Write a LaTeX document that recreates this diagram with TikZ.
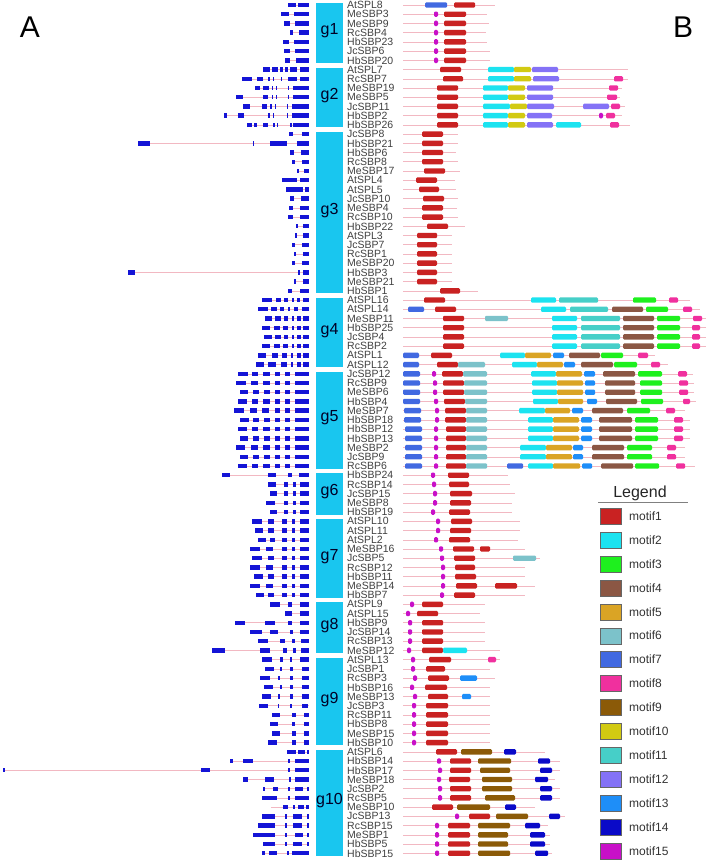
\documentclass[tikz,border=0pt]{standalone}
\usepackage{fontspec}
\setmainfont{Liberation Sans}
\definecolor{grp}{HTML}{19C6EF}
\definecolor{exonc}{HTML}{1414D6}
\definecolor{linec}{HTML}{F2B8C2}
\definecolor{mA}{HTML}{C92222}% motif1
\definecolor{mB}{HTML}{1CE3F0}% motif2
\definecolor{mC}{HTML}{1EF01E}% motif3
\definecolor{mD}{HTML}{8B5744}% motif4
\definecolor{mE}{HTML}{DAA425}% motif5
\definecolor{mF}{HTML}{7CC2CA}% motif6
\definecolor{mG}{HTML}{4169E1}% motif7
\definecolor{mH}{HTML}{F0309E}% motif8
\definecolor{mI}{HTML}{8B5A08}% motif9
\definecolor{mJ}{HTML}{D2CA12}% motif10
\definecolor{mK}{HTML}{46CFC8}% motif11
\definecolor{mL}{HTML}{8472F6}% motif12
\definecolor{mM}{HTML}{1E8EF8}% motif13
\definecolor{mN}{HTML}{0A0AC8}% motif14
\definecolor{mO}{HTML}{C810C8}% motif15
\tikzset{
  gname/.style={anchor=west,inner sep=0pt,text=black!75,font=\fontsize{10.5}{10}\selectfont},
  glabel/.style={font=\fontsize{16}{16}\selectfont,text=black!85!blue},
  grpbar/.style={fill=grp},
  intron/.style={draw=linec,line width=0.5pt},
  exon/.style={fill=exonc},
  motif/.style={rounded corners=1.2pt},
  keybox/.style={draw=black!60,line width=0.4pt,minimum width=21pt,minimum height=16pt,inner sep=0pt},
  keytext/.style={anchor=west,inner sep=0pt,text=black!80,font=\fontsize{12}{12}\selectfont},
  panel/.style={font=\fontsize{30}{30}\selectfont}
}
% gene structure: row, start of the line, exons
\newcommand{\gene}[3]{%
  \pgfmathsetmacro\yy{5+#1*9.22}
  \draw[intron] (#2,\yy) -- (309,\yy);
  \foreach \a/\b in {#3} \fill[exon] (\a,\yy-2.2) rectangle (\b,\yy+2.2);
}
% protein motifs: row, end of the line, motifs
\newcommand{\prot}[3]{%
  \pgfmathsetmacro\yy{5+#1*9.22}
  \draw[intron] (403,\yy) -- (#2,\yy);
  \foreach \a/\b/\c in {#3} \fill[motif,fill=\c] (\a,\yy-2.7) rectangle (\b,\yy+2.7);
}
\begin{document}
\begin{tikzpicture}[x=1pt,y=-1pt]
\useasboundingbox (0,0) rectangle (709,862);
\node[panel] (pA) at (30,27) {A};
\node[panel] (pB) at (683,27) {B};
% groups
\foreach \g/\a/\b in {1/0/6,2/7/13,3/14/31,4/32/39,5/40/50,6/51/55,7/56/64,8/65/70,9/71/80,10/81/92}{
  \fill[grpbar] (316,{5+\a*9.22-2}) rectangle (343,{5+\b*9.22+2.5});
  \node[glabel] (g\g) at (329.5,{5+(\a+\b)*4.61-2}) {g\g};
}
% names
\foreach \n [count=\i from 0] in {AtSPL8,MeSBP3,MeSBP9,RcSBP4,HbSBP23,JcSBP6,HbSBP20,
  AtSPL7,RcSBP7,MeSBP19,MeSBP5,JcSBP11,HbSBP2,HbSBP26,
  JcSBP8,HbSBP21,HbSBP6,RcSBP8,MeSBP17,AtSPL4,AtSPL5,JcSBP10,MeSBP4,RcSBP10,HbSBP22,AtSPL3,JcSBP7,RcSBP1,MeSBP20,HbSBP3,MeSBP21,HbSBP1,
  AtSPL16,AtSPL14,MeSBP11,HbSBP25,JcSBP4,RcSBP2,AtSPL1,AtSPL12,
  JcSBP12,RcSBP9,MeSBP6,HbSBP4,MeSBP7,HbSBP18,HbSBP12,HbSBP13,MeSBP2,JcSBP9,RcSBP6,
  HbSBP24,RcSBP14,JcSBP15,MeSBP8,HbSBP19,
  AtSPL10,AtSPL11,AtSPL2,MeSBP16,JcSBP5,RcSBP12,HbSBP11,MeSBP14,HbSBP7,
  AtSPL9,AtSPL15,HbSBP9,JcSBP14,RcSBP13,MeSBP12,
  AtSPL13,JcSBP1,RcSBP3,HbSBP16,MeSBP13,JcSBP3,RcSBP11,HbSBP8,MeSBP15,HbSBP10,
  AtSPL6,HbSBP14,HbSBP17,MeSBP18,JcSBP2,RcSBP5,MeSBP10,JcSBP13,RcSBP15,MeSBP1,HbSBP5,HbSBP15}
  \node[gname] (r\i) at (347,{5+\i*9.22}) {\n};
% A: gene structures
\gene{0}{288}{288/296,298/309}
\gene{1}{281}{281/289,294/309}
\gene{2}{284}{284/290,295/309}
\gene{3}{290}{290/293,299/309}
\gene{4}{283}{283/289,294/309}
\gene{5}{284}{284/290,295/309}
\gene{6}{285}{285/290,296/309}
\gene{7}{263}{263/270,272/278,280/283,285/288,290/297,300/309}
\gene{8}{242}{242/252,257/263,268/270,273/274,281/282,288/297,300/309}
\gene{9}{255}{255/260,263/269,272/273,276/277,288/289,293/309}
\gene{10}{236}{236/243,263/268,272/273,276/277,288/289,293/309}
\gene{11}{243}{243/250,262/267,270/272,275/276,287/288,292/309}
\gene{12}{224}{224/227,238/244,268/270,273/274,287/288,292/309}
\gene{13}{247}{247/252,254/257,263/268,273/275,277/278,290/292,293/309}
\gene{14}{289}{289/293,302/309}
\gene{15}{138}{138/150,253/254,270/287,297/309}
\gene{16}{290}{290/294,301/309}
\gene{17}{292}{292/295,302/309}
\gene{18}{297}{297/299,304/309}
\gene{19}{282}{282/297,300/309}
\gene{20}{286}{286/303,305/309}
\gene{21}{290}{290/294,301/309}
\gene{22}{289}{289/293,300/309}
\gene{23}{288}{288/293,300/309}
\gene{24}{296}{296/298,303/309}
\gene{25}{295}{295/297,303/309}
\gene{26}{292}{292/295,302/309}
\gene{27}{294}{294/296,303/309}
\gene{28}{292}{292/295,302/309}
\gene{29}{128}{128/135,298/300,303/309}
\gene{30}{294}{294/296,303/309}
\gene{31}{288}{288/292,300/309}
\gene{32}{262}{262/272,276/281,284/288,292/294,297/300,303/309}
\gene{33}{258}{258/268,271/277,280/284,288/290,294/298,302/309}
\gene{34}{265}{265/272,275/281,284/288,292/294,297/301,303/309}
\gene{35}{262}{262/270,274/280,283/288,292/294,297/301,303/309}
\gene{36}{264}{264/272,275/281,284/288,292/294,297/301,303/309}
\gene{37}{262}{262/270,274/280,283/288,292/294,297/301,303/309}
\gene{38}{258}{258/266,272/278,282/287,291/293,297/301,303/309}
\gene{39}{256}{256/264,268/276,281/287,291/293,297/301,303/309}
\gene{40}{238}{238/248,252/258,263/270,275/280,285/290,295/309}
\gene{41}{236}{236/246,251/258,263/270,275/280,285/290,295/309}
\gene{42}{240}{240/248,253/259,264/270,275/280,285/290,295/309}
\gene{43}{238}{238/247,252/258,263/270,275/280,285/290,295/309}
\gene{44}{234}{234/244,250/257,262/269,275/280,285/290,295/309}
\gene{45}{240}{240/249,253/259,264/270,275/280,285/290,295/309}
\gene{46}{238}{238/247,252/258,263/270,275/280,285/290,295/309}
\gene{47}{240}{240/248,253/259,264/270,275/280,285/290,295/309}
\gene{48}{236}{236/245,251/258,263/270,275/280,285/290,295/309}
\gene{49}{240}{240/248,253/259,264/270,275/280,285/290,295/309}
\gene{50}{238}{238/247,252/258,263/270,275/280,285/290,295/309}
\gene{51}{222}{222/230,268/276,288/292,299/309}
\gene{52}{268}{268/276,284/288,293/296,300/309}
\gene{53}{270}{270/277,284/288,293/296,300/309}
\gene{54}{266}{266/275,284/288,293/296,300/309}
\gene{55}{270}{270/277,284/288,293/296,300/309}
\gene{56}{252}{252/262,268/274,282/287,292/295,300/309}
\gene{57}{255}{255/263,268/274,282/287,292/295,300/309}
\gene{58}{258}{258/266,270/275,282/287,292/295,300/309}
\gene{59}{250}{250/260,266/273,282/287,292/295,300/309}
\gene{60}{252}{252/262,268/274,282/287,292/295,300/309}
\gene{61}{250}{250/260,266/273,282/287,292/295,300/309}
\gene{62}{254}{254/263,268/274,282/287,292/295,300/309}
\gene{63}{250}{250/260,266/273,282/287,292/295,300/309}
\gene{64}{256}{256/264,268/274,282/287,292/295,300/309}
\gene{65}{270}{270/280,288/292,300/309}
\gene{66}{285}{285/292,300/309}
\gene{67}{235}{235/245,265/275,288/292,300/309}
\gene{68}{250}{250/262,270/278,290/293,300/309}
\gene{69}{258}{258/268,280/285,292/295,301/309}
\gene{70}{212}{212/225,260/270,283/287,293/296,301/309}
\gene{71}{262}{262/272,280/283,290/292,300/309}
\gene{72}{265}{265/274,280/282,290/293,302/309}
\gene{73}{260}{260/270,278/280,290/293,302/309}
\gene{74}{264}{264/273,280/282,290/293,302/309}
\gene{75}{262}{262/271,278/280,290/293,302/309}
\gene{76}{259}{259/268,278/279,290/292,302/308}
\gene{77}{272}{272/280,292/296,304/309}
\gene{78}{270}{270/278,292/295,304/309}
\gene{79}{272}{272/280,292/296,304/309}
\gene{80}{268}{268/277,292/296,304/309}
\gene{81}{287}{287/296,298/305,307/309}
\gene{82}{230}{230/233,243/253,288/290,295/309}
\gene{83}{3}{3/4.5,201/210,288/290,295/309}
\gene{84}{243}{243/248,265/274,289/291,295/309}
\gene{85}{263}{263/265,273/278,288/290,295/303,307/309}
\gene{86}{262}{262/277,288/290,295/309}
\gene{87}{271}{283/288,293/295,298/304,306/309}
\gene{88}{262}{262/275,285/287,293/302,307/309}
\gene{89}{258}{258/275,285/287,293/302,307/309}
\gene{90}{253}{253/275,285/287,295/303,307/309}
\gene{91}{263}{263/275,285/287,293/302,307/309}
\gene{92}{262}{262/265,269/277,287/289,292/309}
% B: motifs
\prot{0}{495}{425/447/mG,454/475/mA}
\prot{1}{487}{434/438/mO,444/466/mA}
\prot{2}{489}{434/438/mO,444/466/mA}
\prot{3}{486}{434/438/mO,444/466/mA}
\prot{4}{487}{434/438/mO,444/466/mA}
\prot{5}{490}{434/438/mO,444/466/mA}
\prot{6}{490}{434/438/mO,444/466/mA}
\prot{7}{628}{440/461/mA,488/514/mB,514/531/mJ,532/558/mL}
\prot{8}{628}{443/463/mA,488/514/mB,514/531/mJ,533/559/mL,614/623/mH}
\prot{9}{622}{437/458/mA,483/508/mB,508/525/mJ,527/553/mL,609/618/mH}
\prot{10}{620}{437/458/mA,483/508/mB,508/525/mJ,527/553/mL,607/617/mH}
\prot{11}{625}{437/458/mA,483/510/mB,510/527/mJ,527/554/mL,583/609/mL,611/620/mH}
\prot{12}{622}{437/458/mA,483/508/mB,508/525/mJ,527/552/mL,599/603/mO,606/615/mH}
\prot{13}{630}{437/458/mA,483/508/mB,508/525/mJ,527/553/mL,556/581/mB,610/619/mH}
\prot{14}{458}{422/443/mA}
\prot{15}{458}{422/443/mA}
\prot{16}{456}{422/443/mA}
\prot{17}{458}{422/443/mA}
\prot{18}{460}{424/445/mA}
\prot{19}{455}{416/437/mA}
\prot{20}{456}{419/439/mA}
\prot{21}{458}{423/444/mA}
\prot{22}{457}{422/443/mA}
\prot{23}{458}{422/443/mA}
\prot{24}{465}{427/448/mA}
\prot{25}{452}{417/437/mA}
\prot{26}{452}{417/437/mA}
\prot{27}{452}{417/437/mA}
\prot{28}{452}{417/437/mA}
\prot{29}{452}{417/437/mA}
\prot{30}{452}{417/437/mA}
\prot{31}{478}{440/460/mA}
\prot{32}{690}{424/445/mA,531/556/mB,559/598/mK,633/656/mC,669/678/mH}
\prot{33}{700}{408/424/mG,435/456/mA,541/566/mB,570/608/mK,612/643/mD,646/668/mC,683/692/mH}
\prot{34}{706}{443/464/mA,485/508/mF,552/577/mB,581/620/mK,623/654/mD,657/680/mC,693/702/mH}
\prot{35}{706}{443/464/mA,552/577/mB,581/620/mK,623/654/mD,657/680/mC,692/700/mH}
\prot{36}{706}{443/464/mA,552/577/mB,581/620/mK,623/654/mD,657/680/mC,692/700/mH}
\prot{37}{706}{443/464/mA,552/577/mB,581/620/mK,623/654/mD,657/680/mC,692/700/mH}
\prot{38}{655}{403/419/mG,431/452/mA,500/525/mB,525/551/mE,553/564/mM,569/600/mD,601/623/mC,638/648/mH}
\prot{39}{668}{403/419/mG,437/458/mA,458/485/mF,512/537/mB,537/563/mE,564/575/mM,581/613/mD,614/637/mC,651/660/mH}
\prot{40}{693}{403/420/mG,432/436/mO,442/463/mA,463/487/mF,531/556/mB,556/582/mE,584/595/mM,603/635/mD,638/662/mC,678/687/mH}
\prot{41}{694}{403/420/mG,433/437/mO,443/464/mA,464/487/mF,532/557/mB,557/583/mE,585/595/mM,605/635/mD,640/662/mC,679/688/mH}
\prot{42}{694}{403/420/mG,433/437/mO,443/464/mA,464/487/mF,532/557/mB,557/583/mE,585/595/mM,605/635/mD,640/662/mC,679/688/mH}
\prot{43}{696}{403/420/mG,434/438/mO,444/465/mA,465/487/mF,533/558/mB,558/583/mE,587/597/mM,606/637/mD,641/663/mC,683/690/mH}
\prot{44}{685}{404/421/mG,435/439/mO,445/466/mA,466/487/mF,519/545/mB,545/570/mE,572/583/mM,592/623/mD,627/650/mC,666/675/mH}
\prot{45}{690}{404/421/mG,435/439/mO,445/466/mA,466/487/mF,528/553/mB,553/579/mE,581/592/mM,599/632/mD,635/658/mC,674/683/mH}
\prot{46}{690}{405/422/mG,434/438/mO,446/466/mA,466/487/mF,528/553/mB,553/579/mE,581/592/mM,599/632/mD,635/658/mC,674/683/mH}
\prot{47}{690}{405/422/mG,434/438/mO,446/466/mA,466/487/mF,528/553/mB,553/579/mE,581/592/mM,599/632/mD,635/658/mC,674/683/mH}
\prot{48}{685}{405/422/mG,434/438/mO,446/466/mA,466/487/mF,520/546/mB,546/572/mE,573/583/mM,592/624/mD,627/652/mC,667/676/mH}
\prot{49}{685}{405/422/mG,434/438/mO,446/466/mA,466/487/mF,520/546/mB,546/572/mE,573/583/mM,592/624/mD,627/652/mC,667/676/mH}
\prot{50}{695}{405/422/mG,434/438/mO,446/466/mA,466/487/mF,507/523/mG,528/553/mB,553/580/mE,582/592/mM,601/633/mD,635/659/mC,676/685/mH}
\prot{51}{508}{431/435/mO,448/469/mA}
\prot{52}{510}{432/436/mO,449/469/mA}
\prot{53}{515}{433/437/mO,450/472/mA}
\prot{54}{512}{433/437/mO,450/471/mA}
\prot{55}{512}{431/435/mO,449/470/mA}
\prot{56}{520}{436/440/mO,451/472/mA}
\prot{57}{520}{436/440/mO,450/471/mA}
\prot{58}{518}{434/438/mO,449/470/mA}
\prot{59}{525}{439/443/mO,453/474/mA,480/490/mA}
\prot{60}{540}{440/444/mO,454/475/mA,513/536/mF}
\prot{61}{525}{441/445/mO,455/475/mA}
\prot{62}{525}{441/445/mO,455/476/mA}
\prot{63}{535}{441/445/mO,456/477/mA,495/517/mA}
\prot{64}{525}{440/444/mO,454/475/mA}
\prot{65}{485}{410/414/mO,422/443/mA}
\prot{66}{480}{406/410/mO,417/438/mA}
\prot{67}{485}{408/412/mO,422/443/mA}
\prot{68}{485}{408/412/mO,422/443/mA}
\prot{69}{485}{408/412/mO,422/443/mA}
\prot{70}{500}{407/411/mO,422/443/mA,443/467/mB}
\prot{71}{500}{411/415/mO,429/451/mA,488/496/mH}
\prot{72}{490}{411/415/mO,426/445/mA}
\prot{73}{495}{413/417/mO,428/449/mA,460/477/mM}
\prot{74}{490}{410/414/mO,425/447/mA}
\prot{75}{490}{413/417/mO,428/448/mA,462/471/mM}
\prot{76}{490}{412/416/mO,426/448/mA}
\prot{77}{490}{412/416/mO,426/448/mA}
\prot{78}{490}{412/416/mO,426/448/mA}
\prot{79}{490}{412/416/mO,426/448/mA}
\prot{80}{490}{412/416/mO,426/448/mA}
\prot{81}{545}{436/457/mA,461/492/mI,504/516/mN}
\prot{82}{560}{437/441/mO,450/471/mA,478/511/mI,538/550/mN}
\prot{83}{560}{438/442/mO,450/471/mA,480/510/mI,540/552/mN}
\prot{84}{555}{437/441/mO,449/470/mA,482/512/mI,535/548/mN}
\prot{85}{560}{438/442/mO,450/471/mA,482/512/mI,540/552/mN}
\prot{86}{560}{438/442/mO,450/471/mA,485/515/mI,540/552/mN}
\prot{87}{535}{432/453/mA,457/490/mI,505/516/mN}
\prot{88}{565}{455/459/mO,469/490/mA,496/528/mI,549/560/mN}
\prot{89}{548}{435/439/mO,448/470/mA,478/510/mI,525/540/mN}
\prot{90}{550}{435/439/mO,448/470/mA,478/508/mI,530/545/mN}
\prot{91}{550}{435/439/mO,448/470/mA,478/508/mI,530/545/mN}
\prot{92}{552}{435/439/mO,448/470/mA,478/510/mI,535/548/mN}
% legend
\node[font=\fontsize{16}{16}\selectfont,text=black!85] (leg) at (640,493) {Legend};
\draw[black!50,line width=0.6pt] (598,502) -- (688,502);
\foreach \c [count=\k] in {mA,mB,mC,mD,mE,mF,mG,mH,mI,mJ,mK,mL,mM,mN,mO}{
  \node[keybox,fill=\c] (k\k) at (610.5,{492+\k*23.95}) {};
  \node[keytext] (t\k) at (629,{492+\k*23.95}) {motif\k};
}
\end{tikzpicture}
\end{document}
